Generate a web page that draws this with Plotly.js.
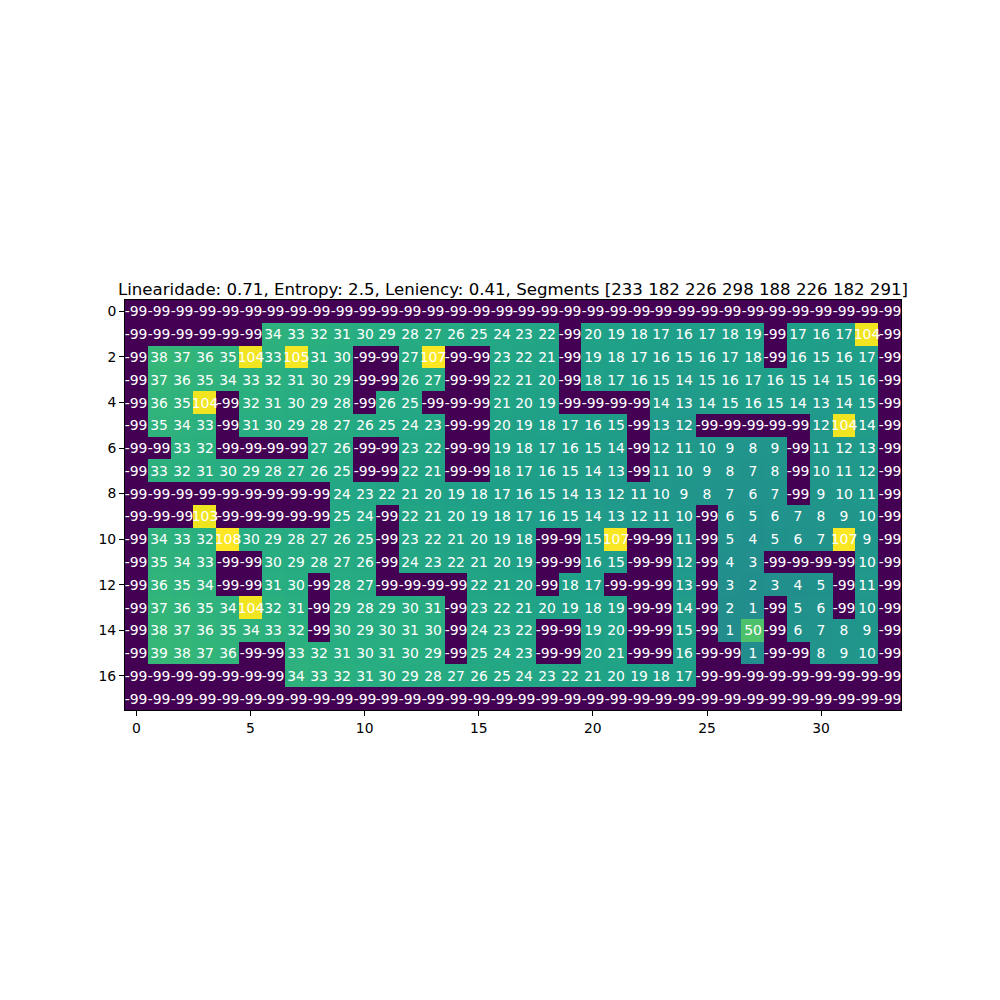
<!DOCTYPE html>
<html>
<head>
<meta charset="utf-8">
<script src="https://cdn.plot.ly/plotly-3.0.1.min.js"></script>
<style>html,body{margin:0;padding:0;background:#fff}#chart{width:1000px;height:1000px}</style>
</head>
<body>
<div id="chart"></div>
<script>
const N = -99;
const row0  = [N,N,N,N,N,N,N,N,N,N,N,N,N,N,N,N,N,N,N,N,N,N,N,N,N,N,N,N,N,N,N,N,N,N];
const row1  = [N,N,N,N,N,N,34,33,32,31,30,29,28,27,26,25,24,23,22,N,20,19,18,17,16,17,18,19,N,17,16,17,104,N];
const row2  = [N,38,37,36,35,104,33,105,31,30,N,N,27,107,N,N,23,22,21,N,19,18,17,16,15,16,17,18,N,16,15,16,17,N];
const row3  = [N,37,36,35,34,33,32,31,30,29,N,N,26,27,N,N,22,21,20,N,18,17,16,15,14,15,16,17,16,15,14,15,16,N];
const row4  = [N,36,35,104,N,32,31,30,29,28,N,26,25,N,N,N,21,20,19,N,N,N,N,14,13,14,15,16,15,14,13,14,15,N];
const row5  = [N,35,34,33,N,31,30,29,28,27,26,25,24,23,N,N,20,19,18,17,16,15,N,13,12,N,N,N,N,N,12,104,14,N];
const row6  = [N,N,33,32,N,N,N,N,27,26,N,N,23,22,N,N,19,18,17,16,15,14,N,12,11,10,9,8,9,N,11,12,13,N];
const row7  = [N,33,32,31,30,29,28,27,26,25,N,N,22,21,N,N,18,17,16,15,14,13,N,11,10,9,8,7,8,N,10,11,12,N];
const row8  = [N,N,N,N,N,N,N,N,N,24,23,22,21,20,19,18,17,16,15,14,13,12,11,10,9,8,7,6,7,N,9,10,11,N];
const row9  = [N,N,N,103,N,N,N,N,N,25,24,N,22,21,20,19,18,17,16,15,14,13,12,11,10,N,6,5,6,7,8,9,10,N];
const row10 = [N,34,33,32,108,30,29,28,27,26,25,N,23,22,21,20,19,18,N,N,15,107,N,N,11,N,5,4,5,6,7,107,9,N];
const row11 = [N,35,34,33,N,N,30,29,28,27,26,N,24,23,22,21,20,19,N,N,16,15,N,N,12,N,4,3,N,N,N,N,10,N];
const row12 = [N,36,35,34,N,N,31,30,N,28,27,N,N,N,N,22,21,20,N,18,17,N,N,N,13,N,3,2,3,4,5,N,11,N];
const row13 = [N,37,36,35,34,104,32,31,N,29,28,29,30,31,N,23,22,21,20,19,18,19,N,N,14,N,2,1,N,5,6,N,10,N];
const row14 = [N,38,37,36,35,34,33,32,N,30,29,30,31,30,N,24,23,22,N,N,19,20,N,N,15,N,1,50,N,6,7,8,9,N];
const row15 = [N,39,38,37,36,N,N,33,32,31,30,31,30,29,N,25,24,23,N,N,20,21,N,N,16,N,N,1,N,N,8,9,10,N];
const row16 = [N,N,N,N,N,N,N,34,33,32,31,30,29,28,27,26,25,24,23,22,21,20,19,18,17,N,N,N,N,N,N,N,N,N];
const row17 = [N,N,N,N,N,N,N,N,N,N,N,N,N,N,N,N,N,N,N,N,N,N,N,N,N,N,N,N,N,N,N,N,N,N];

const grid = [row0,row1,row2,row3,row4,row5,row6,row7,row8,row9,row10,row11,row12,row13,row14,row15,row16,row17];
const xTicks = [0,5,10,15,20,25,30];
const yTicks = [0,2,4,6,8,10,12,14,16];
const titleText = "Linearidade: 0.71, Entropy: 2.5, Leniency: 0.41, Segments [233 182 226 298 188 226 182 291]";

const labels = grid.map(r => r.map(v => String(v)));
const font = "DejaVu Sans, sans-serif";
const trace = {
  type: "heatmap",
  z: grid,
  text: labels,
  colorscale: "Viridis",
  zmin: -99, zmax: 108,
  showscale: false,
  texttemplate: "%{text}",
  textfont: {family: font, size: 13.9, color: "white"},
  hoverinfo: "skip",
  xgap: 0, ygap: 0
};
const axisCommon = {
  showgrid: false, zeroline: false,
  ticks: "outside", ticklen: 5, tickwidth: 1, tickcolor: "black",
  showline: true, mirror: true, linecolor: "black", linewidth: 1,
  tickfont: {family: font, size: 13.9, color: "black"}
};
const layout = {
  width: 1000, height: 1000,
  margin: {l: 125, r: 99, t: 300, b: 290},
  paper_bgcolor: "white", plot_bgcolor: "white",
  title: {text: titleText, font: {family: font, size: 16.6, color: "black"},
          x: 0.5, xref: "paper", y: 1, yref: "paper", yanchor: "bottom", pad: {b: 5}},
  xaxis: Object.assign({}, axisCommon, {range: [-0.5, 33.5], tickvals: xTicks, ticktext: xTicks.map(String)}),
  yaxis: Object.assign({}, axisCommon, {range: [17.5, -0.5], tickvals: yTicks, ticktext: yTicks.map(String)})
};
Plotly.newPlot("chart", [trace], layout, {staticPlot: true});
</script>
</body>
</html>
